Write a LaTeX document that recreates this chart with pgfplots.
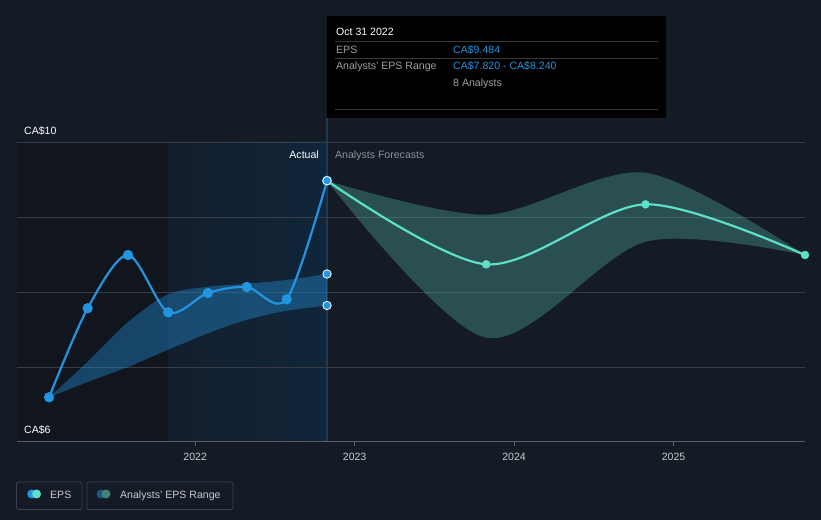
\documentclass[border=0pt]{standalone}
\usepackage{fontspec}
\setmainfont{Liberation Sans}
\usepackage{pgfplots}
\usepackage{pgfplotstable}
\pgfplotsset{compat=1.18}
\definecolor{bg}{RGB}{21,27,37}
\definecolor{darkreg}{RGB}{17,21,30}
\definecolor{bluereg1}{RGB}{19,30,44}
\definecolor{bluereg2}{RGB}{17,38,58}
\definecolor{gridc}{RGB}{55,60,70}
\definecolor{axisc}{RGB}{88,93,102}
\definecolor{epsblue}{RGB}{35,148,223}
\definecolor{tealc}{RGB}{92,224,200}
\definecolor{tealband}{RGB}{88,200,185}
\definecolor{vlinec}{RGB}{30,58,85}
\definecolor{txtgray}{RGB}{140,144,152}
\definecolor{ttgray}{RGB}{160,160,160}
\definecolor{ttline}{RGB}{58,58,58}
\definecolor{legborder}{RGB}{60,65,75}
\definecolor{legtext}{RGB}{200,202,206}
\definecolor{rngblue}{RGB}{30,88,130}
\definecolor{rngteal}{RGB}{62,130,124}
\newcommand\chartfont{\fontsize{10.6}{12}\selectfont}

\pgfplotstableread{
x y
2021.084 6.596
2021.326 7.783
2021.579 8.493
2021.831 7.729
2022.080 7.987
2022.324 8.067
2022.574 7.903
2022.827 9.484
}\actual

\pgfplotstableread{
x lo hi
2021.084 6.596 6.596
2021.326 6.80 7.07
2021.579 7.00 7.60
2021.831 7.23 7.97
2022.080 7.45 8.07
2022.324 7.63 8.11
2022.574 7.75 8.16
2022.827 7.82 8.24
}\actband

\pgfplotstableread{
x y lo hi
2022.827 9.484 9.484 9.484
2023.825 8.369 7.39 9.03
2024.824 9.169 8.67 9.59
2025.824 8.493 8.493 8.493
}\forecast

\pgfplotstableread{
x y
2023.825 8.369
2024.824 9.169
2025.824 8.493
}\fcmarks

\pgfplotstableread{
x y
2022.827 9.484
2022.827 8.24
2022.827 7.82
}\endpts

\pgfplotsset{base/.style={
  at={(17bp,78bp)}, anchor=south west,
  scale only axis, width=788bp, height=300bp,
  xmin=2020.883, xmax=2025.824, ymin=6, ymax=10,
  clip=false}}

\begin{document}
\begin{tikzpicture}
\fill[bg] (0,0) rectangle (821bp,520bp);
% background regions and grid
\begin{axis}[base, hide axis]
\fill[darkreg] (axis cs:2020.883,6) rectangle (axis cs:2021.829,10);
\fill[left color=bluereg1, right color=bluereg2] (axis cs:2021.829,6) rectangle (axis cs:2022.827,10);
\draw[vlinec, line width=1.5bp] (axis cs:2022.827,6) -- (axis cs:2022.827,10.32);
\draw[gridc, line width=0.8bp] (axis cs:2020.883,7) -- (axis cs:2025.824,7);
\draw[gridc, line width=0.8bp] (axis cs:2020.883,8) -- (axis cs:2025.824,8);
\draw[gridc, line width=0.8bp] (axis cs:2020.883,9) -- (axis cs:2025.824,9);
\draw[gridc, line width=0.8bp] (axis cs:2020.883,10) -- (axis cs:2025.824,10);
\draw[axisc, line width=1bp] (axis cs:2020.883,6) -- (axis cs:2025.824,6);
\end{axis}
% actual range band
\begin{axis}[base, hide axis]
\addplot[draw=none, smooth, stack plots=y, forget plot] table[x=x,y=lo] \actband;
\addplot[draw=none, fill=epsblue, fill opacity=0.38, smooth, stack plots=y] table[x=x, y expr=\thisrow{hi}-\thisrow{lo}] \actband \closedcycle;
\end{axis}
% forecast band
\begin{axis}[base, hide axis]
\addplot[draw=none, smooth, stack plots=y, forget plot] table[x=x,y=lo] \forecast;
\addplot[draw=none, fill=tealband, fill opacity=0.3, smooth, stack plots=y] table[x=x, y expr=\thisrow{hi}-\thisrow{lo}] \forecast \closedcycle;
\end{axis}
% lines, ticks
\begin{axis}[
  base,
  axis line style={draw=none},
  xtick={2022,2023,2024,2025},
  xticklabels={2022,2023,2024,2025},
  xtick pos=bottom,
  xticklabel style={font=\chartfont, text=legtext, anchor=base, inner sep=0pt, yshift=-15bp},
  ytick=\empty,
  tick align=outside, major tick length=4bp,
  tick style={axisc, line width=1bp},
]
\addplot[tealc, line width=2.2bp, smooth] table[x=x,y=y] \forecast;
\addplot[only marks, mark=*, mark size=4bp, mark options={fill=tealc, draw=tealc}] table[x=x,y=y] \fcmarks;

\addplot[epsblue, line width=2.2bp, smooth, mark=*, mark size=4bp, mark options={fill=epsblue, draw=epsblue}] table[x=x,y=y] \actual;
\addplot[only marks, mark=*, mark size=4.2bp, mark options={fill=epsblue, draw=white, line width=0.8bp}] table[x=x,y=y] \endpts;
\end{axis}

\node[anchor=base west, inner sep=0pt, font=\chartfont, text=white] at (24bp,385.7bp) {CA\$10};
\node[anchor=base west, inner sep=0pt, font=\chartfont, text=white] at (24bp,86bp) {CA\$6};
\node[anchor=base east, inner sep=0pt, font=\chartfont, text=white] at (319bp,361.7bp) {Actual};
\node[anchor=base west, inner sep=0pt, font=\chartfont, text=txtgray] at (335bp,361.7bp) {Analysts Forecasts};

% tooltip
\fill[black] (327bp,402bp) rectangle (666bp,504bp);
\node[anchor=base west, inner sep=0pt, font=\chartfont, text=white] at (336bp,484.3bp) {Oct 31 2022};
\draw[ttline, line width=0.8bp] (335bp,478.7bp) -- (658bp,478.7bp);
\node[anchor=base west, inner sep=0pt, font=\chartfont, text=ttgray] at (336bp,466.7bp) {EPS};
\node[anchor=base west, inner sep=0pt, font=\chartfont, text=epsblue] at (453bp,466.7bp) {CA\$9.484};
\draw[ttline, line width=0.8bp] (335bp,461.7bp) -- (658bp,461.7bp);
\node[anchor=base west, inner sep=0pt, font=\chartfont, text=ttgray] at (336bp,450bp) {Analysts' EPS Range};
\node[anchor=base west, inner sep=0pt, font=\chartfont, text=epsblue] at (453bp,450bp) {CA\$7.820 - CA\$8.240};
\node[anchor=base west, inner sep=0pt, font=\chartfont, text=ttgray] at (453bp,433.3bp) {8 Analysts};
\draw[ttline, line width=0.8bp] (335bp,410.7bp) -- (658bp,410.7bp);

% legend
\draw[legborder, rounded corners=2bp, line width=0.8bp] (16.5bp,10.5bp) rectangle (82bp,38bp);
\draw[legborder, rounded corners=2bp, line width=0.8bp] (87bp,10.5bp) rectangle (233bp,38bp);
\fill[epsblue] (31.7bp,26bp) circle (4.5bp);
\fill[tealc] (36.5bp,26bp) circle (4.5bp);
\node[anchor=base west, inner sep=0pt, font=\chartfont, text=legtext] at (50bp,21.7bp) {EPS};
\fill[rngblue] (101bp,26bp) circle (4.5bp);
\fill[rngteal] (106bp,26bp) circle (4.5bp);
\node[anchor=base west, inner sep=0pt, font=\chartfont, text=legtext] at (120bp,21.7bp) {Analysts' EPS Range};
\end{tikzpicture}
\end{document}
